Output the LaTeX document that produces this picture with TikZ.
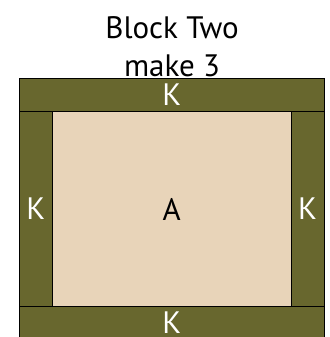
\documentclass[tikz,border=0pt]{standalone}
\usepackage{fontspec}
\setmainfont{PT Sans}
\definecolor{kolive}{RGB}{104,103,46}
\definecolor{abeige}{RGB}{232,212,185}

\begin{document}
\begin{tikzpicture}[x=1pt, y=1pt,
	bar/.style={draw=black, line width=0.8pt, fill=kolive, text=white, inner sep=0pt, font=\fontsize{31}{38}\selectfont},
	hbar/.style={bar, minimum width=304.5pt, minimum height=32.6pt},
	vbar/.style={bar, minimum width=32.5pt, minimum height=195.4pt}]
\useasboundingbox (0,0) rectangle (329,337);
\node[font=\fontsize{31}{38}\selectfont, align=center] (title) at (172,290.5) {Block Two\\make 3};
\node[hbar] (ktop) at (171.75,242) {K};
\node[vbar] (kleft) at (35.75,128) {\raisebox{-3pt}{K}};
\node[vbar] (kright) at (307.65,128) {\raisebox{-3pt}{K}};
\node[bar, fill=abeige, text=black, minimum width=239.3pt, minimum height=195.4pt] (a) at (171.65,128) {\raisebox{-3pt}{A}};
\node[hbar] (kbottom) at (171.75,14) {K};
\end{tikzpicture}
\end{document}
